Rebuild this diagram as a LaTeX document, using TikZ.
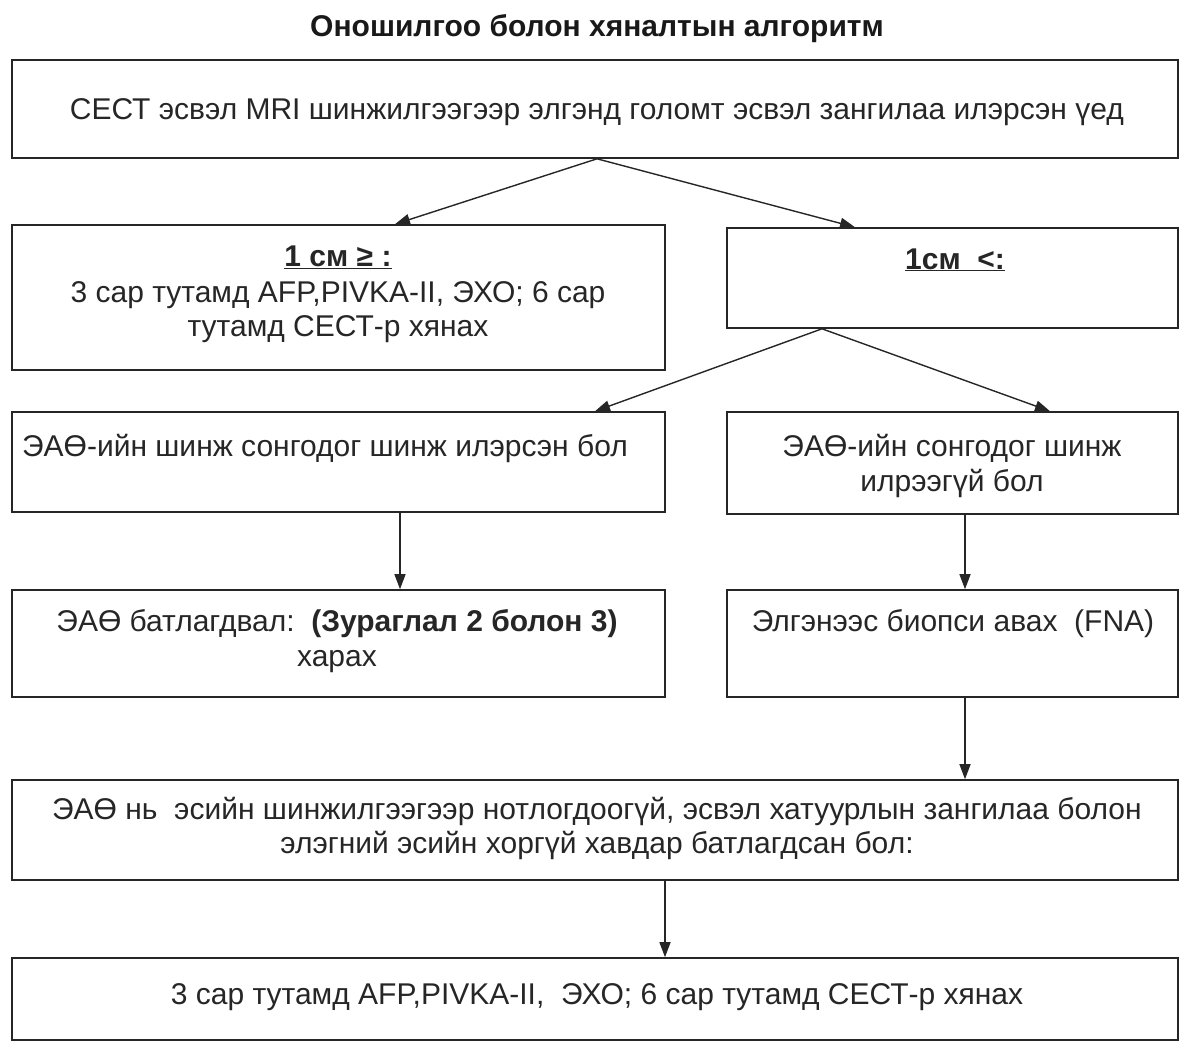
\documentclass[tikz,border=0pt]{standalone}
\usepackage{fontspec}
\setmainfont{Liberation Sans}
\usetikzlibrary{arrows.meta}
\begin{document}
\begin{tikzpicture}[x=1pt,y=-1pt,
  box/.style={draw=black!85,line width=1.6pt,inner sep=0pt,rectangle},
  txt/.style={text=black!85,font=\fontsize{30}{34}\selectfont,anchor=base,inner sep=0pt},
  ttl/.style={text=black!90,font=\fontsize{30}{34}\selectfont\bfseries,anchor=base,inner sep=0pt},
  arr/.style={draw=black!85,line width=1.4pt,-{Triangle[length=15pt,width=11pt]}}]
\useasboundingbox (0,0) rectangle (1180,1042);
\node[ttl] (title) at (597,36) {Оношилгоо болон хяналтын алгоритм};
% boxes
\node[box,minimum width=1166pt,minimum height=98pt] (b1) at (595,109) {};
\node[box,minimum width=653pt,minimum height=145pt] (b2) at (338.5,297.5) {};
\node[box,minimum width=451pt,minimum height=100pt] (b3) at (952.5,278) {};
\node[box,minimum width=653pt,minimum height=100pt] (b4) at (338.5,462) {};
\node[box,minimum width=451pt,minimum height=102pt] (b5) at (952.5,463) {};
\node[box,minimum width=653pt,minimum height=107pt] (b6) at (338.5,643.5) {};
\node[box,minimum width=451pt,minimum height=107pt] (b7) at (952.5,643.5) {};
\node[box,minimum width=1166pt,minimum height=100pt] (b8) at (595,830) {};
\node[box,minimum width=1166pt,minimum height=82pt] (b9) at (595,999) {};
% texts
\node[txt] (t1) at (597,119) {СЕСТ эсвэл MRI шинжилгээгээр элгэнд голомт эсвэл зангилаа илэрсэн үед};
\node[txt,font=\fontsize{30}{34}\selectfont\bfseries] (t2a) at (338,266) {\underline{1 см ≥ :}};
\node[txt] (t2b) at (338,302) {3 сар тутамд AFP,PIVKA-II, ЭХО; 6 сар};
\node[txt] (t2c) at (338,336) {тутамд СЕСТ-р хянах};
\node[txt,font=\fontsize{30}{34}\selectfont\bfseries] (t3) at (955,269) {\underline{1см\ \ <:}};
\node[txt] (t4) at (325,456) {ЭАӨ-ийн шинж сонгодог шинж илэрсэн бол};
\node[txt] (t5a) at (952,456) {ЭАӨ-ийн сонгодог шинж};
\node[txt] (t5b) at (952,491) {илрээгүй бол};
\node[txt] (t6a) at (337,631) {ЭАӨ батлагдвал:\ \ \textbf{(Зураглал 2 болон 3)}};
\node[txt] (t6b) at (337,666) {харах};
\node[txt] (t7) at (953,631) {Элгэнээс биопси авах\ \ (FNA)};
\node[txt] (t8a) at (597,819) {ЭАӨ нь\ \ эсийн шинжилгээгээр нотлогдоогүй, эсвэл хатуурлын зангилаа болон};
\node[txt] (t8b) at (597,853) {элэгний эсийн хоргүй хавдар батлагдсан бол:};
\node[txt] (t9) at (597,1004) {3 сар тутамд AFP,PIVKA-II,\ \ ЭХО; 6 сар тутамд СЕСТ-р хянах};
% arrows
\draw[arr] ([xshift=2pt]b1.south) -- ([xshift=56.5pt]b2.north);
\draw[arr] ([xshift=2pt]b1.south) -- ([xshift=-97.5pt]b3.north);
\draw[arr] ([xshift=-130.5pt]b3.south) -- ([xshift=256.5pt]b4.north);
\draw[arr] ([xshift=-130.5pt]b3.south) -- ([xshift=97.5pt]b5.north);
\draw[arr] ([xshift=61.5pt]b4.south) -- ([xshift=61.5pt]b6.north);
\draw[arr] ([xshift=12.5pt]b5.south) -- ([xshift=12.5pt]b7.north);
\draw[arr] ([xshift=12.5pt]b7.south) -- ([xshift=370pt]b8.north);
\draw[arr] ([xshift=70pt]b8.south) -- ([xshift=70pt]b9.north);
\end{tikzpicture}
\end{document}
